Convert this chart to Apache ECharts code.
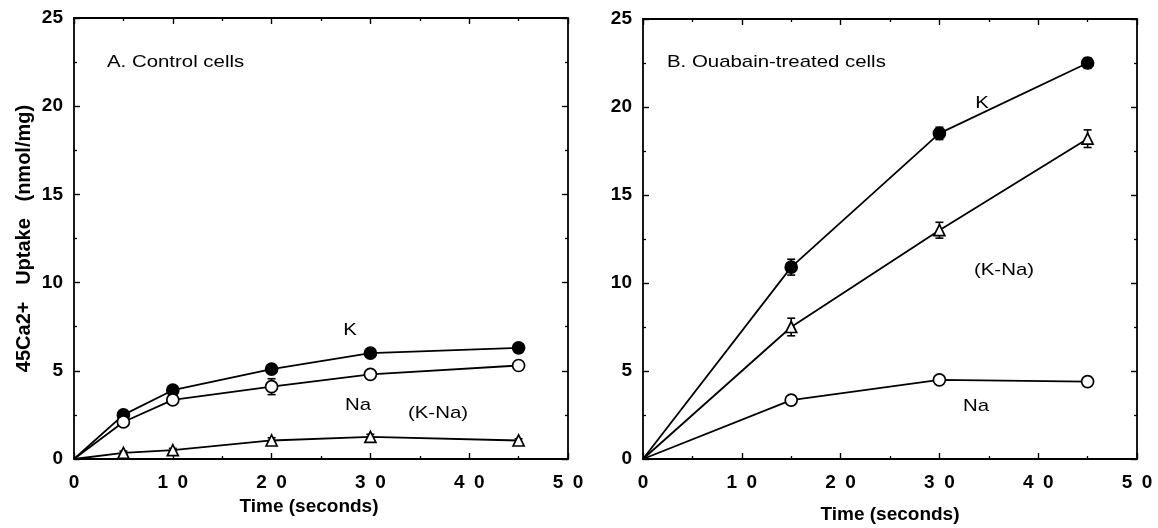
<!DOCTYPE html>
<html>
<head>
<meta charset="utf-8">
<script src="https://cdn.jsdelivr.net/npm/echarts@6/dist/echarts.min.js"></script>
<style>
html, body { margin: 0; background: #fff; }
#main { width: 1158px; height: 528px; }
</style>
</head>
<body>
<div id="main"></div>
<script>
// A. control cells
var timeA = [0, 5, 10, 20, 30, 45];
var kA = [0, 2.5, 3.9, 5.1, 6.0, 6.3];
var naA = [0, 2.1, 3.35, 4.1, 4.8, 5.3];
var diffA = [0, 0.35, 0.5, 1.05, 1.25, 1.05];
var errKA = [0, 0.15, 0.15, 0.15, 0.1, 0.1];
var errNaA = [0, 0.15, 0.15, 0.45, 0.15, 0.1];
var errDiffA = [0, 0.1, 0.1, 0.15, 0.15, 0.1];

// B. ouabain-treated cells
var timeB = [0, 15, 30, 45];
var kB = [0, 10.9, 18.5, 22.5];
var naB = [0, 3.35, 4.5, 4.4];
var diffB = [0, 7.5, 13.0, 18.2];
var errKB = [0, 0.45, 0.35, 0.3];
var errNaB = [0, 0.1, 0.1, 0.1];
var errDiffB = [0, 0.5, 0.45, 0.5];

var xTicks = [0, 10, 20, 30, 40, 50];
var yTicks = [0, 5, 10, 15, 20, 25];

var FONT = "'Liberation Sans', Arial, Helvetica, sans-serif";

function pairs(xs, ys) {
    return xs.map(function (x, i) { return [x, ys[i]]; });
}
function triples(xs, ys, es) {
    return xs.map(function (x, i) { return [x, ys[i], es[i]]; });
}

// 数字之间留空，像原图那样
function spaced(v) {
    return String(v).split('').join('\u2002');
}

function xAxisOf(grid, pos) {
    var bottom = pos == 'bottom';
    return {
        type: 'value', gridIndex: grid, position: pos,
        min: xTicks[0], max: xTicks[xTicks.length - 1], interval: 10,
        name: bottom ? 'Time (seconds)' : '',
        nameLocation: 'middle',
        nameGap: grid == 0 ? 36 : 46,
        nameTextStyle: {
            fontFamily: FONT, fontWeight: 'bold', fontSize: 19, color: '#000',
            padding: grid == 0 ? [0, 24, 0, 0] : 0
        },
        axisLine: { show: true, onZero: false, lineStyle: { color: '#000', width: 1.8 } },
        axisTick: { show: true, inside: true, length: 6, lineStyle: { color: '#000', width: 1.4 } },
        minorTick: { show: true, splitNumber: 2, length: 3, lineStyle: { color: '#000', width: 1.3 } },
        splitLine: { show: false },
        axisLabel: {
            show: bottom, margin: 14, color: '#000',
            fontFamily: FONT, fontWeight: 'bold', fontSize: 19,
            formatter: spaced
        }
    };
}

function yAxisOf(grid, pos) {
    var left = pos == 'left';
    return {
        type: 'value', gridIndex: grid, position: pos,
        min: yTicks[0], max: yTicks[yTicks.length - 1], interval: 5,
        name: (left && grid == 0) ? '45Ca2+   Uptake   (nmol/mg)' : '',
        nameLocation: 'middle', nameRotate: 90, nameGap: 40,
        nameTextStyle: { fontFamily: FONT, fontWeight: 'bold', fontSize: 20, color: '#000' },
        axisLine: { show: true, onZero: false, lineStyle: { color: '#000', width: 1.8 } },
        axisTick: { show: true, inside: true, length: 6, lineStyle: { color: '#000', width: 1.4 } },
        minorTick: { show: true, splitNumber: 2, length: 3, lineStyle: { color: '#000', width: 1.3 } },
        splitLine: { show: false },
        axisLabel: {
            show: left, margin: 11, color: '#000',
            fontFamily: FONT, fontWeight: 'bold', fontSize: 19
        }
    };
}

function symbolFor(shape) {
    return function (v) { return v[0] === 0 ? 'none' : shape; };
}

function lineSeries(name, grid, data, shape, filled) {
    return {
        name: name, type: 'line',
        xAxisIndex: grid * 2, yAxisIndex: grid * 2,
        data: data,
        symbol: symbolFor(shape),
        symbolSize: shape == 'triangle' ? 11 : 12,
        showAllSymbol: true,
        lineStyle: { color: '#000', width: 1.8 },
        itemStyle: { color: filled ? '#000' : '#fff', borderColor: '#000', borderWidth: 1.7 },
        z: 3,
        animation: false
    };
}

function errorSeries(grid, data) {
    return {
        type: 'custom',
        xAxisIndex: grid * 2, yAxisIndex: grid * 2,
        data: data,
        encode: { x: 0, y: 1 },
        z: 2,
        silent: true,
        animation: false,
        renderItem: function (params, api) {
            var x = api.value(0), y = api.value(1), e = api.value(2);
            if (!e) return;
            var hi = api.coord([x, y + e]);
            var lo = api.coord([x, y - e]);
            var w = 4;
            var st = { stroke: '#000', lineWidth: 1.6 };
            return {
                type: 'group',
                children: [
                    { type: 'line', shape: { x1: hi[0], y1: hi[1], x2: lo[0], y2: lo[1] }, style: st },
                    { type: 'line', shape: { x1: hi[0] - w, y1: hi[1], x2: hi[0] + w, y2: hi[1] }, style: st },
                    { type: 'line', shape: { x1: lo[0] - w, y1: lo[1], x2: lo[0] + w, y2: lo[1] }, style: st }
                ]
            };
        }
    };
}

// 原图字体偏宽，用 scaleX 拉一下
function label(text, x, y, align) {
    return {
        type: 'text', x: x, y: y, z: 10, scaleX: 1.2,
        style: {
            text: text, fill: '#000',
            font: '17px ' + FONT,
            textAlign: align || 'center', textVerticalAlign: 'middle'
        }
    };
}

var option = {
    backgroundColor: '#fff',
    animation: false,
    grid: [
        { left: 74, top: 18, width: 494, height: 441, outerBoundsMode: 'none' },
        { left: 643, top: 19, width: 494, height: 440, outerBoundsMode: 'none' }
    ],
    xAxis: [xAxisOf(0, 'bottom'), xAxisOf(0, 'top'), xAxisOf(1, 'bottom'), xAxisOf(1, 'top')],
    yAxis: [yAxisOf(0, 'left'), yAxisOf(0, 'right'), yAxisOf(1, 'left'), yAxisOf(1, 'right')],
    series: [
        errorSeries(0, triples(timeA, kA, errKA)),
        errorSeries(0, triples(timeA, naA, errNaA)),
        errorSeries(0, triples(timeA, diffA, errDiffA)),
        lineSeries('K', 0, pairs(timeA, kA), 'circle', true),
        lineSeries('Na', 0, pairs(timeA, naA), 'circle', false),
        lineSeries('(K-Na)', 0, pairs(timeA, diffA), 'triangle', false),

        errorSeries(1, triples(timeB, kB, errKB)),
        errorSeries(1, triples(timeB, naB, errNaB)),
        errorSeries(1, triples(timeB, diffB, errDiffB)),
        lineSeries('K', 1, pairs(timeB, kB), 'circle', true),
        lineSeries('Na', 1, pairs(timeB, naB), 'circle', false),
        lineSeries('(K-Na)', 1, pairs(timeB, diffB), 'triangle', false)
    ],
    graphic: [
        label('A. Control cells', 107, 62, 'left'),
        label('K', 350, 330),
        label('Na', 358, 405),
        label('(K-Na)', 438, 413),
        label('B. Ouabain-treated cells', 667, 62, 'left'),
        label('K', 982, 103),
        label('(K-Na)', 1004, 270),
        label('Na', 976, 406)
    ]
};

var chart = echarts.init(document.getElementById('main'));
chart.setOption(option);
</script>
</body>
</html>
